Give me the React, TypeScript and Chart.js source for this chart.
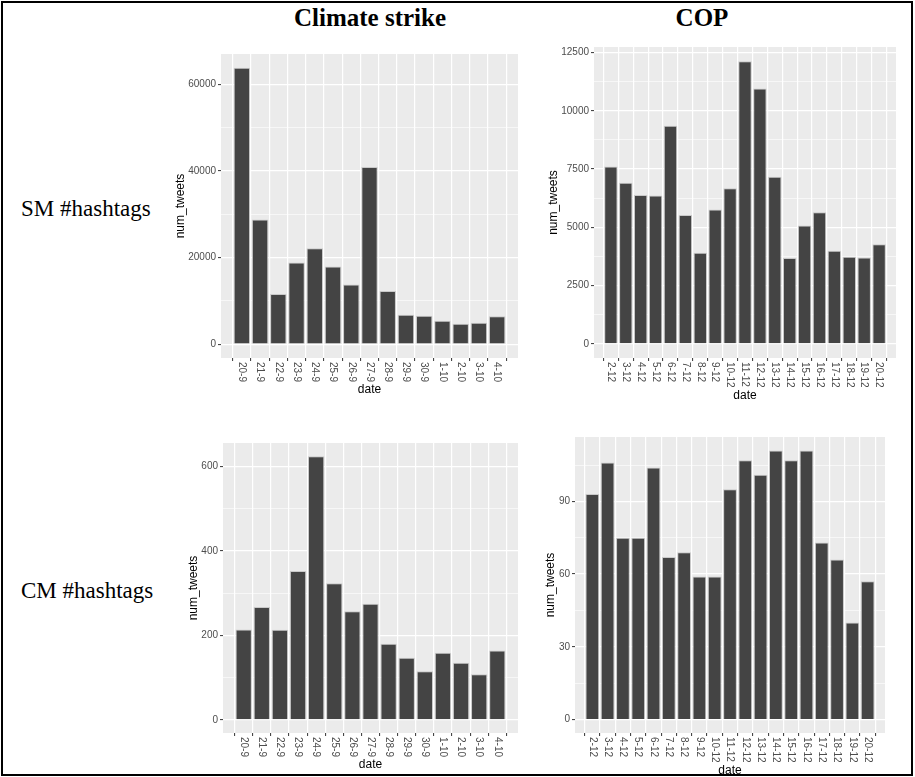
import React, { useEffect, useRef } from 'react';
import { Chart, registerables } from 'chart.js';

Chart.register(...registerables);

// ---------- data ----------
const climateDates = ['20-9', '21-9', '22-9', '23-9', '24-9', '25-9', '26-9', '27-9', '28-9', '29-9', '30-9', '1-10', '2-10', '3-10', '4-10'];
const copDates = ['2-12', '3-12', '4-12', '5-12', '6-12', '7-12', '8-12', '9-12', '10-12', '11-12', '12-12', '13-12', '14-12', '15-12', '16-12', '17-12', '18-12', '19-12', '20-12'];

const smClimate = [63800, 28800, 11600, 18850, 22150, 17950, 13750, 40900, 12300, 6800, 6550, 5420, 4740, 4960, 6420];
const smCop = [7610, 6910, 6390, 6360, 9360, 5530, 3910, 5770, 6680, 12130, 10960, 7170, 3680, 5080, 5650, 4000, 3740, 3710, 4270];
const cmClimate = [214, 267, 213, 352, 624, 323, 257, 275, 180, 147, 115, 159, 135, 108, 164];
const cmCop = [93, 106, 75, 75, 104, 67, 69, 59, 59, 95, 107, 101, 111, 107, 111, 73, 66, 40, 57];

const smClimateTicks = [0, 20000, 40000, 60000];
const smCopTicks = [0, 2500, 5000, 7500, 10000, 12500];
const cmClimateTicks = [0, 200, 400, 600];
const cmCopTicks = [0, 30, 60, 90];

const columnTitles = ['Climate strike', 'COP'];
const rowTitles = ['SM #hashtags', 'CM #hashtags'];
const xTitle = 'date';
const yTitle = 'num_tweets';

// ---------- layout ----------
const AX_W = 72;
const PAD_T = 6;
const PAD_R = 6;
const AX_H = 50;
const SANS = '"Liberation Sans", Arial, Helvetica, sans-serif';
const SERIF = '"Liberation Serif", "Times New Roman", serif';

type Rect = { l: number; t: number; r: number; b: number };

function Panel({ rect, labels, values, majors }: { rect: Rect; labels: string[]; values: number[]; majors: number[] }) {
  const ref = useRef<HTMLCanvasElement>(null);
  const w = rect.r - rect.l + AX_W + PAD_R;
  const h = rect.b - rect.t + PAD_T + AX_H;

  useEffect(() => {
    const maxV = Math.max(...values);
    const step = majors[1] - majors[0];
    const yMin = -0.05 * maxV;
    const yMax = 1.05 * maxV;
    const minors: number[] = [];
    for (const m of majors) {
      const v = m + step / 2;
      if (v <= yMax) minors.push(v);
    }
    const allY = [...majors, ...minors].sort((a, b) => a - b);
    const isMajor = (v: number) => majors.includes(v);

    const panelPlugin = {
      id: 'panelDeco',
      beforeDraw(chart: any) {
        const { ctx, chartArea: a } = chart;
        ctx.save();
        ctx.fillStyle = '#EBEBEB';
        ctx.fillRect(a.left, a.top, a.right - a.left, a.bottom - a.top);
        ctx.restore();
      },
      afterDraw(chart: any) {
        const { ctx, chartArea: a } = chart;
        const xs = chart.scales.x;
        ctx.save();
        ctx.font = '10px ' + SANS;
        ctx.fillStyle = '#4D4D4D';
        let maxW = 0;
        labels.forEach((lab, i) => {
          const px = xs.getPixelForValue(i + 1);
          maxW = Math.max(maxW, ctx.measureText(lab).width);
          ctx.save();
          ctx.translate(px, a.bottom + 4);
          ctx.rotate(Math.PI / 2);
          ctx.textAlign = 'left';
          ctx.textBaseline = 'middle';
          ctx.fillText(lab, 0, 0);
          ctx.restore();
        });
        let maxYW = 0;
        majors.forEach((m) => {
          maxYW = Math.max(maxYW, ctx.measureText(String(m)).width);
        });
        ctx.font = '12px ' + SANS;
        ctx.fillStyle = '#000000';
        ctx.textAlign = 'center';
        ctx.textBaseline = 'middle';
        ctx.fillText(xTitle, (a.left + a.right) / 2, a.bottom + 4 + maxW + 8);
        ctx.save();
        ctx.translate(a.left - 5 - maxYW - 8, (a.top + a.bottom) / 2);
        ctx.rotate(-Math.PI / 2);
        ctx.fillText(yTitle, 0, 0);
        ctx.restore();
        ctx.restore();
      },
    };

    const chart = new Chart(ref.current as HTMLCanvasElement, {
      type: 'bar',
      data: {
        datasets: [
          {
            data: values.map((v, i) => ({ x: i + 1, y: v })),
            backgroundColor: '#444444',
            borderColor: '#C9C9C9',
            borderWidth: 1,
            barPercentage: 0.9,
            categoryPercentage: 1,
          },
        ],
      },
      options: {
        responsive: false,
        animation: false,
        devicePixelRatio: 1,
        layout: { padding: { left: 0, top: PAD_T, right: PAD_R, bottom: 0 } },
        plugins: { legend: { display: false }, tooltip: { enabled: false }, title: { display: false } },
        scales: {
          x: {
            type: 'linear',
            min: 0.4,
            max: labels.length + 0.6,
            border: { display: false },
            afterBuildTicks: (s: any) => {
              s.ticks = labels.map((_, i) => ({ value: i + 1 }));
            },
            afterFit: (s: any) => {
              s.height = AX_H;
            },
            ticks: { display: false, autoSkip: false },
            grid: {
              color: '#FFFFFF',
              lineWidth: 1.2,
              drawTicks: true,
              tickLength: 3,
              tickColor: '#333333',
              tickWidth: 1,
            },
          },
          y: {
            type: 'linear',
            min: yMin,
            max: yMax,
            border: { display: false },
            afterBuildTicks: (s: any) => {
              s.ticks = allY.map((v) => ({ value: v }));
            },
            afterFit: (s: any) => {
              s.width = AX_W;
            },
            ticks: {
              autoSkip: false,
              padding: 2,
              color: '#4D4D4D',
              font: { family: SANS, size: 10 },
              callback: (v: any) => (isMajor(Number(v)) ? String(v) : ''),
            },
            grid: {
              color: '#FFFFFF',
              lineWidth: (c: any) => (c.tick && isMajor(c.tick.value) ? 1.2 : 0.6),
              drawTicks: true,
              tickLength: 3,
              tickWidth: 1,
              tickColor: (c: any) => (c.tick && isMajor(c.tick.value) ? '#333333' : 'rgba(0,0,0,0)'),
            },
          },
        },
      },
      plugins: [panelPlugin],
    } as any);
    return () => chart.destroy();
  }, []);

  return (
    <canvas
      ref={ref}
      width={w}
      height={h}
      style={{ position: 'absolute', left: rect.l - AX_W, top: rect.t - PAD_T, width: w, height: h }}
    />
  );
}

export default function App() {
  return (
    <div style={{ position: 'fixed', left: 0, top: 0, width: 915, height: 777, overflow: 'hidden', background: '#FFFFFF' }}>
      <div
        style={{
          position: 'absolute',
          left: 1,
          top: 1,
          width: 912,
          height: 775,
          border: '2px solid #000',
          boxSizing: 'border-box',
        }}
      />
      <div style={{ position: 'absolute', left: 220, width: 300, top: 4, textAlign: 'center', font: 'bold 25px ' + SERIF, lineHeight: '28px', color: '#000' }}>
        {columnTitles[0]}
      </div>
      <div style={{ position: 'absolute', left: 552, width: 300, top: 4, textAlign: 'center', font: 'bold 25px ' + SERIF, lineHeight: '28px', color: '#000' }}>
        {columnTitles[1]}
      </div>
      <div style={{ position: 'absolute', left: 21, top: 197, font: '23px ' + SERIF, lineHeight: '23px', color: '#000', whiteSpace: 'nowrap' }}>
        {rowTitles[0]}
      </div>
      <div style={{ position: 'absolute', left: 21, top: 579, font: '23px ' + SERIF, lineHeight: '23px', color: '#000', whiteSpace: 'nowrap' }}>
        {rowTitles[1]}
      </div>
      <Panel rect={{ l: 221, t: 52, r: 518, b: 358 }} labels={climateDates} values={smClimate} majors={smClimateTicks} />
      <Panel rect={{ l: 594, t: 45, r: 896, b: 358 }} labels={copDates} values={smCop} majors={smCopTicks} />
      <Panel rect={{ l: 223, t: 441, r: 518, b: 733 }} labels={climateDates} values={cmClimate} majors={cmClimateTicks} />
      <Panel rect={{ l: 575, t: 435, r: 885, b: 733 }} labels={copDates} values={cmCop} majors={cmCopTicks} />
    </div>
  );
}
